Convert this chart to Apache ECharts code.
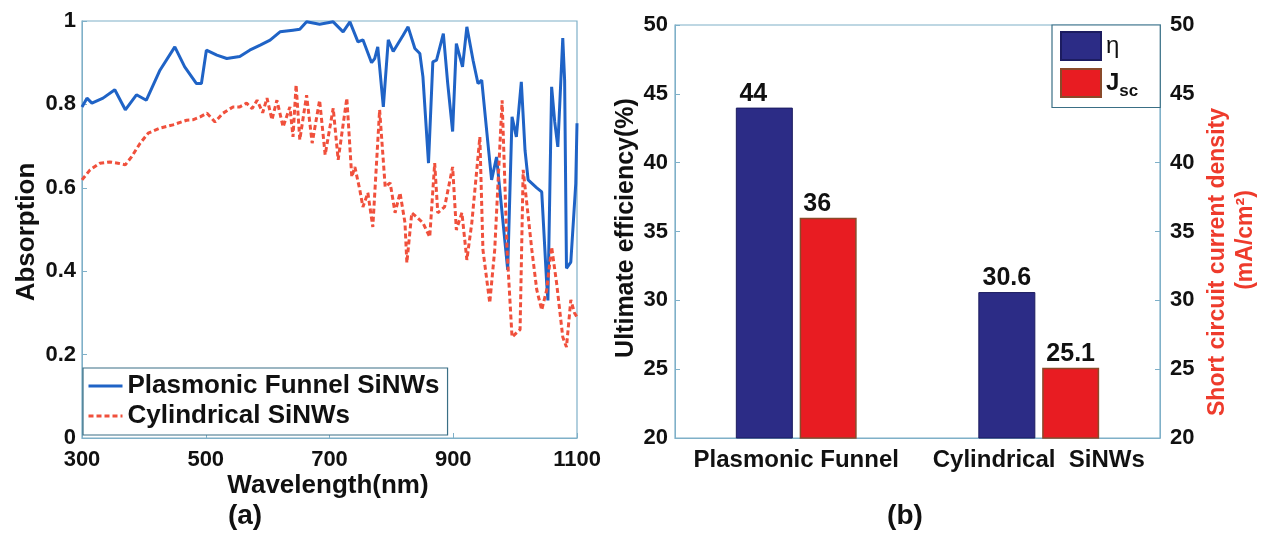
<!DOCTYPE html>
<html><head><meta charset="utf-8">
<script src="https://cdn.jsdelivr.net/npm/echarts@6/dist/echarts.min.js"></script>
<style>html,body{margin:0;padding:0;background:#fff}#c{width:1266px;height:533px}</style>
</head><body><div id="c"></div>
<script>
// ---- Panel (a): absorption spectra ----
const wlFunnel = [300,308,316,334,353,370,388,404,426,450,466,485,493,501,518,534,555,571,588,604,620,641,652,663,684,706,722,733,746,754,768,773,778,787,795,803,819,827,838,846,851,860,867,873,884,891,899,905,915,922,932,940,946,956,962,970,988,995,1002,1010,1016,1021,1035,1043,1051,1053,1059,1064,1069,1077,1080,1083,1090,1098,1100];
const absFunnel = [0.794,0.815,0.803,0.815,0.835,0.787,0.823,0.81,0.882,0.938,0.89,0.85,0.85,0.93,0.918,0.91,0.915,0.93,0.942,0.954,0.974,0.978,0.98,0.998,0.992,0.998,0.974,0.998,0.95,0.955,0.9,0.91,0.938,0.794,0.955,0.927,0.966,0.986,0.934,0.922,0.866,0.659,0.902,0.906,0.97,0.851,0.735,0.946,0.89,0.986,0.906,0.85,0.858,0.707,0.619,0.674,0.403,0.77,0.722,0.854,0.69,0.619,0.6,0.59,0.372,0.33,0.842,0.758,0.698,0.959,0.858,0.407,0.422,0.61,0.755];
const wlCyl = [300,313,329,345,358,370,380,394,407,426,447,469,479,491,502,515,528,544,555,566,575,583,592,599,607,615,625,636,641,646,652,663,672,684,693,706,714,728,736,741,749,754,762,770,781,790,798,806,814,822,825,833,841,851,862,870,875,886,899,905,914,922,930,943,948,959,967,979,987,995,1008,1013,1027,1035,1043,1051,1059,1067,1077,1083,1090,1096,1100];
const absCyl = [0.619,0.643,0.659,0.662,0.659,0.655,0.674,0.707,0.731,0.743,0.751,0.762,0.763,0.77,0.779,0.758,0.779,0.794,0.794,0.803,0.79,0.81,0.78,0.815,0.763,0.81,0.746,0.794,0.722,0.847,0.715,0.822,0.707,0.81,0.679,0.791,0.667,0.815,0.626,0.65,0.595,0.554,0.588,0.506,0.787,0.602,0.612,0.54,0.588,0.516,0.42,0.54,0.53,0.516,0.482,0.659,0.54,0.554,0.65,0.499,0.54,0.427,0.516,0.722,0.451,0.324,0.451,0.81,0.45,0.242,0.26,0.643,0.451,0.355,0.307,0.355,0.458,0.372,0.242,0.218,0.331,0.3,0.29];
const lineNames = ['Plasmonic Funnel SiNWs','Cylindrical SiNWs'];

// ---- Panel (b): efficiency / Jsc ----
const barCategories = ['Plasmonic Funnel','Cylindrical  SiNWs'];
const etaValues = [44, 30.6];
const jscValues = [36, 25.1];
const barNames = ['η','Jsc'];

const FF = '"Liberation Sans", Arial, sans-serif';
const axisCol = '#7fb0c8';
const txt = {fontFamily: FF, fontWeight: 'bold', color: '#111', fontSize: 22};
const barLabel = {show: true, position: 'top', distance: 1, fontFamily: FF, fontWeight: 'bold', fontSize: 25, color: '#111'};
// first group's value labels sit slightly left of the bar centre in the original
const withLabelShift = vals => vals.map((v, i) => i === 0 ? {value: v, label: {offset: [-11, 0]}} : v);

const chart = echarts.init(document.getElementById('c'), null, {renderer: 'canvas'});
chart.setOption({
  backgroundColor: '#fff',
  animation: false,
  grid: [
    {left: 82, top: 21, width: 495, height: 417, show: true, borderColor: axisCol, borderWidth: 1.2, backgroundColor: 'transparent'},
    {left: 675, top: 25, width: 485, height: 413, show: true, borderColor: axisCol, borderWidth: 1.2, backgroundColor: 'transparent'}
  ],
  xAxis: [
    {type: 'value', gridIndex: 0, min: 300, max: 1100, interval: 200,
     axisLine: {lineStyle: {color: axisCol}}, axisTick: {inside: true, length: 5, lineStyle: {color: axisCol}},
     splitLine: {show: false}, axisLabel: Object.assign({margin: 11, formatter: v => String(v)}, txt)},
    {type: 'category', gridIndex: 1, data: barCategories,
     axisLine: {lineStyle: {color: axisCol}}, axisTick: {inside: true, alignWithLabel: true, length: 5, lineStyle: {color: axisCol}},
     axisLabel: Object.assign({}, txt, {margin: 10, fontSize: 24, interval: 0, hideOverlap: false})}
  ],
  yAxis: [
    {type: 'value', gridIndex: 0, min: 0, max: 1, interval: 0.2,
     axisLine: {show: true, lineStyle: {color: axisCol}}, axisTick: {show: true, inside: true, length: 5, lineStyle: {color: axisCol}},
     splitLine: {show: false}, axisLabel: Object.assign({margin: 6}, txt)},
    {type: 'value', gridIndex: 1, min: 20, max: 50, interval: 5, position: 'left',
     axisLine: {show: true, lineStyle: {color: axisCol}}, axisTick: {show: true, inside: true, length: 5, lineStyle: {color: axisCol}},
     splitLine: {show: false}, axisLabel: Object.assign({margin: 7}, txt)},
    {type: 'value', gridIndex: 1, min: 20, max: 50, interval: 5, position: 'right',
     axisLine: {show: true, lineStyle: {color: axisCol}}, axisTick: {show: true, inside: true, length: 5, lineStyle: {color: axisCol}},
     splitLine: {show: false}, axisLabel: Object.assign({margin: 10}, txt)}
  ],
  legend: [
    {data: lineNames, orient: 'vertical', left: 83, top: 368, itemWidth: 34, itemHeight: 14, itemGap: 4,
     padding: [5, 8, 6, 4], backgroundColor: '#fff', borderColor: '#3a6f85', borderWidth: 1.2,
     itemStyle: {color: 'transparent', borderWidth: 0, opacity: 0},
     lineStyle: {width: 3},
     textStyle: Object.assign({}, txt, {fontSize: 26})},
    {data: barNames, orient: 'vertical', left: 1052, top: 25, itemWidth: 40, itemHeight: 28, itemGap: 7,
     padding: [6, 22, 8, 8], backgroundColor: '#fff', borderColor: '#3a6f85', borderWidth: 1.2,
     icon: 'rect',
     formatter: function (n) { return n === 'Jsc' ? '{b|J}{s|sc}' : '{g|η}'; },
     textStyle: {rich: {
       b: {fontFamily: FF, fontWeight: 'bold', fontSize: 24, color: '#111'},
       s: {fontFamily: FF, fontWeight: 'bold', fontSize: 17, color: '#111', padding: [16, 0, 0, 0]},
       g: {fontFamily: FF, fontSize: 24, color: '#111'}
     }}}
  ],
  series: [
    {name: lineNames[0], type: 'line', xAxisIndex: 0, yAxisIndex: 0, showSymbol: false, symbol: 'none',
     data: wlFunnel.map((w, i) => [w, absFunnel[i]]),
     lineStyle: {color: '#1f63c6', width: 3}, itemStyle: {color: '#1f63c6'}},
    {name: lineNames[1], type: 'line', xAxisIndex: 0, yAxisIndex: 0, showSymbol: false, symbol: 'none',
     data: wlCyl.map((w, i) => [w, absCyl[i]]),
     lineStyle: {color: '#f0503c', width: 3, type: [5, 3]}, itemStyle: {color: '#f0503c'}},
    {name: barNames[0], type: 'bar', xAxisIndex: 1, yAxisIndex: 1, data: withLabelShift(etaValues),
     barWidth: 57, barGap: '12%',
     itemStyle: {color: '#2c2c86', borderColor: '#1c1c60', borderWidth: 1},
     label: barLabel},
    {name: barNames[1], type: 'bar', xAxisIndex: 1, yAxisIndex: 2, data: withLabelShift(jscValues),
     barWidth: 57, barGap: '12%',
     itemStyle: {color: '#e81c22', borderColor: '#8a4a2a', borderWidth: 1.5},
     label: barLabel}
  ],
  graphic: [
    {type: 'text', x: 27, y: 232, rotation: Math.PI / 2, style: {text: 'Absorption', font: 'bold 26px ' + FF, fill: '#111', textAlign: 'center', textVerticalAlign: 'middle'}},
    {type: 'text', x: 328, y: 486, style: {text: 'Wavelength(nm)', font: 'bold 26px ' + FF, fill: '#111', textAlign: 'center', textVerticalAlign: 'middle'}},
    {type: 'text', x: 245, y: 516, style: {text: '(a)', font: 'bold 28px ' + FF, fill: '#111', textAlign: 'center', textVerticalAlign: 'middle'}},
    {type: 'text', x: 626, y: 228, rotation: Math.PI / 2, style: {text: 'Ultimate efficiency(%)', font: 'bold 25px ' + FF, fill: '#111', textAlign: 'center', textVerticalAlign: 'middle'}},
    {type: 'text', x: 1218, y: 262, rotation: Math.PI / 2, style: {text: 'Short circuit current density', font: 'bold 23px ' + FF, fill: '#ee3b2c', textAlign: 'center', textVerticalAlign: 'middle'}},
    {type: 'text', x: 1246, y: 240, rotation: Math.PI / 2, style: {text: '(mA/cm²)', font: 'bold 23px ' + FF, fill: '#ee3b2c', textAlign: 'center', textVerticalAlign: 'middle'}},
    {type: 'text', x: 905, y: 516, style: {text: '(b)', font: 'bold 28px ' + FF, fill: '#111', textAlign: 'center', textVerticalAlign: 'middle'}}
  ]
});
</script></body></html>
